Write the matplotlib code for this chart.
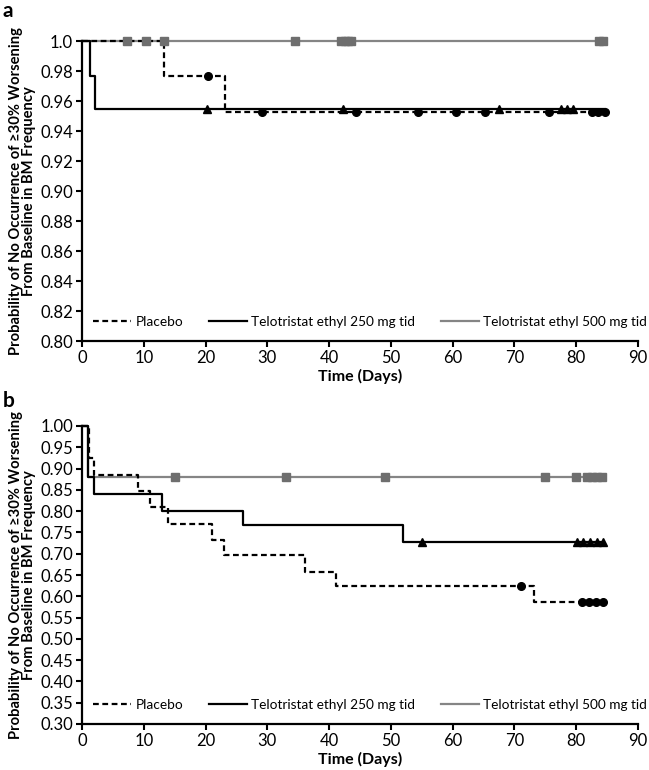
import numpy as np
import matplotlib
matplotlib.use("Agg")
import matplotlib.pyplot as plt

plt.rcParams['font.family'] = ['Lato', 'DejaVu Sans']

day_ticks = [0, 10, 20, 30, 40, 50, 60, 70, 80, 90]
labels = ["Placebo", "Telotristat ethyl 250 mg tid", "Telotristat ethyl 500 mg tid"]
ylab = "Probability of No Occurrence of \u226530% Worsening\nFrom Baseline in BM Frequency"

# ---- panel a : step times, survival, last day, censored days
a_pla_t = [0, 13.3, 23.2]
a_pla_s = [1.0, 0.977, 0.953]
a_pla_end = 84.6
a_pla_cens = [20.4, 29.1, 44.3, 54.4, 60.5, 65.2, 75.6, 82.5, 83.5, 84.6]

a_250_t = [0, 1.3, 2.1]
a_250_s = [1.0, 0.977, 0.955]
a_250_end = 84.6
a_250_cens = [20.2, 42.2, 67.5, 77.5, 78.5, 79.5]

a_500_t = [0]
a_500_s = [1.0]
a_500_end = 84.6
a_500_cens = [7.3, 10.4, 13.3, 34.5, 41.9, 42.5, 43.0, 43.5, 83.7, 84.4]

a_yticks = [0.80, 0.82, 0.84, 0.86, 0.88, 0.90, 0.92, 0.94, 0.96, 0.98, 1.0]
a_ylabels = ["0.80", "0.82", "0.84", "0.86", "0.88", "0.90", "0.92", "0.94", "0.96", "0.98", "1.0"]

# ---- panel b
b_pla_t = [0, 1.1, 1.9, 9.0, 11.0, 14.0, 21.0, 23.0, 36.1, 41.1, 73.1]
b_pla_s = [1.0, 0.924, 0.886, 0.848, 0.809, 0.769, 0.732, 0.696, 0.658, 0.625, 0.586]
b_pla_end = 84.3
b_pla_cens = [71.1, 81.0, 82.1, 83.2, 84.3]

b_250_t = [0, 1.0, 2.0, 13.0, 26.0, 52.0]
b_250_s = [1.0, 0.88, 0.84, 0.80, 0.768, 0.728]
b_250_end = 84.3
b_250_cens = [55.0, 80.1, 81.1, 82.2, 83.3, 84.3]

b_500_t = [0, 1.0]
b_500_s = [1.0, 0.88]
b_500_end = 84.6
b_500_cens = [15.0, 33.0, 49.0, 75.0, 80.0, 81.8, 82.6, 83.4, 84.2]

b_yticks = [0.30, 0.35, 0.40, 0.45, 0.50, 0.55, 0.60, 0.65, 0.70, 0.75, 0.80, 0.85, 0.90, 0.95, 1.00]
b_ylabels = ["%.2f" % v for v in b_yticks]

GRAY = '#858585'
GRAY_M = '#6e6e6e'


def km(ax, t, s, end, cens, ls, color, marker, mcolor, label, z):
    xs = list(t) + [end]
    ys = list(s) + [s[-1]]
    ax.step(xs, ys, where='post', ls=ls, color=color, lw=1.6, label=label,
            zorder=z, clip_on=False)
    idx = np.searchsorted(t, cens, side='right') - 1
    ax.plot(cens, np.array(s)[idx], ls='none', marker=marker, color=mcolor,
            ms=5.5, zorder=z + 3, clip_on=False)


def panel(ax, curves, ymin, yticks, ylabels):
    for c in curves:
        km(ax, *c)
    ax.set_xlim(0, 90)
    ax.set_ylim(ymin, 1.0)
    ax.set_xticks(day_ticks)
    ax.set_yticks(yticks)
    ax.set_yticklabels(ylabels)
    for sp in ['top', 'right']:
        ax.spines[sp].set_visible(False)
    for sp in ['left', 'bottom']:
        ax.spines[sp].set_linewidth(1.6)
    ax.tick_params(direction='out', length=4, width=1.5, labelsize=12, pad=2.5)
    ax.set_xlabel("Time (Days)", fontweight='bold', fontsize=11.5, labelpad=2)
    ax.set_ylabel(ylab, fontweight='bold', fontsize=10.6, linespacing=0.95)
    ax.yaxis.set_label_coords(-0.082, 0.5)
    h, l = ax.get_legend_handles_labels()
    order = [l.index(x) for x in labels]
    ax.legend([h[i] for i in order], labels, ncol=3, loc='center left',
              bbox_to_anchor=(0.02, 0.064), frameon=False, fontsize=9.8,
              handlelength=2.8, handletextpad=0.3, columnspacing=1.9,
              borderpad=0, borderaxespad=0)


fig = plt.figure(figsize=(6.49, 7.70), dpi=100)
ax1 = fig.add_axes([82 / 649, 1 - 341 / 770, 556 / 649, 300 / 770])
ax2 = fig.add_axes([82 / 649, 1 - 724 / 770, 556 / 649, 298 / 770])

dash = (0, (2.6, 1.6))
panel(ax1, [
    (a_500_t, a_500_s, a_500_end, a_500_cens, '-', GRAY, 's', GRAY_M, labels[2], 2),
    (a_pla_t, a_pla_s, a_pla_end, a_pla_cens, dash, 'black', 'o', 'black', labels[0], 3),
    (a_250_t, a_250_s, a_250_end, a_250_cens, '-', 'black', '^', 'black', labels[1], 4),
], 0.80, a_yticks, a_ylabels)

panel(ax2, [
    (b_500_t, b_500_s, b_500_end, b_500_cens, '-', GRAY, 's', GRAY_M, labels[2], 2),
    (b_pla_t, b_pla_s, b_pla_end, b_pla_cens, dash, 'black', 'o', 'black', labels[0], 3),
    (b_250_t, b_250_s, b_250_end, b_250_cens, '-', 'black', '^', 'black', labels[1], 4),
], 0.30, b_yticks, b_ylabels)

fig.text(0.004, 1 - 1 / 770, 'a', fontsize=15, fontweight='bold', va='top')
fig.text(0.004, 1 - 391 / 770, 'b', fontsize=15, fontweight='bold', va='top')

fig.savefig("out.png", dpi=100)
